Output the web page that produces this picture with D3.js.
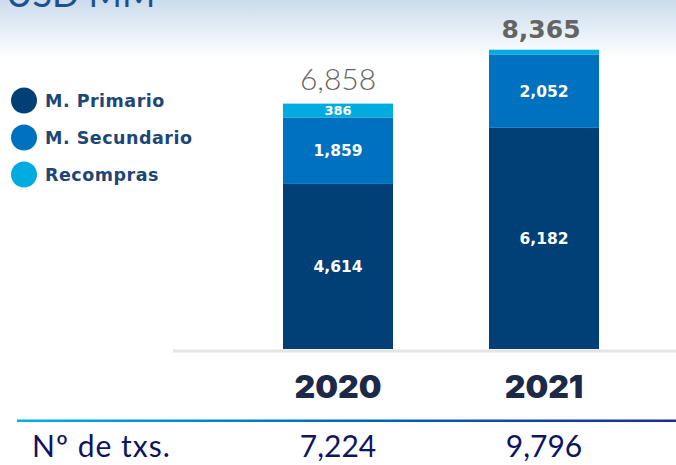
<!DOCTYPE html>
<html><head><meta charset="utf-8">
<script src="https://cdn.jsdelivr.net/npm/d3@7"></script>
<style>html,body{margin:0;padding:0;background:#fff;}svg{display:block;}</style>
</head><body>
<script>
const years = ["2020", "2021"];
const seriesNames = ["M. Primario", "M. Secundario", "Recompras"];
const primario = [4614, 6182];
const secundario = [1859, 2052];
const recompras = [386, 131];
const totals = [6858, 8365];
const txs = [7224, 9796];
const txsLabel = "Nº de txs.";
const titleText = "USD MM";
const colors = ["#004077", "#0071bf", "#00abe0"];

const W = 676, H = 465;
const svg = d3.select("body").append("svg").attr("width", W).attr("height", H);
const defs = svg.append("defs");
const bg = defs.append("linearGradient").attr("id", "bg").attr("x1", 0).attr("y1", 0).attr("x2", 0).attr("y2", 1);
bg.append("stop").attr("offset", "0%").attr("stop-color", "#cadcee");
bg.append("stop").attr("offset", "100%").attr("stop-color", "#ffffff");
svg.append("rect").attr("x", 0).attr("y", 0).attr("width", W).attr("height", 58).attr("fill", "url(#bg)");
const lg = defs.append("linearGradient").attr("id", "lg").attr("x1", 0).attr("y1", 0).attr("x2", 1).attr("y2", 0);
lg.append("stop").attr("offset", "0%").attr("stop-color", "#00b0e6");
lg.append("stop").attr("offset", "50%").attr("stop-color", "#0068b8");
lg.append("stop").attr("offset", "100%").attr("stop-color", "#1a2e8c");

svg.append("text").attr("x", 6).attr("y", 7).text(titleText)
  .attr("font-family", "Lato, sans-serif").attr("font-size", 36).attr("fill", "#1f4f8e");

const x = d3.scaleBand().domain(years).range([180, 702]).paddingInner(0.466).paddingOuter(0.5);
const y = d3.scaleLinear().domain([0, 9000]).range([349, 27]);

const data = years.map((yr, i) => ({year: yr, p: primario[i], s: secundario[i], r: recompras[i]}));
const stack = d3.stack().keys(["p", "s", "r"])(data);

// axis line
svg.append("rect").attr("x", 173).attr("y", 349.5).attr("width", W - 173).attr("height", 3).attr("fill", "#e4e4e4");

const g = svg.append("g");
stack.forEach((layer, li) => {
  g.selectAll(null).data(layer).enter().append("rect")
    .attr("x", d => x(d.data.year)).attr("width", x.bandwidth())
    .attr("y", d => y(d[1])).attr("height", d => y(d[0]) - y(d[1]))
    .attr("fill", colors[li]);
});

// inner labels
const inner = [[0, 0, 15.5], [1, 0, 15.5], [0, 1, 15.5], [1, 1, 15.5], [2, 0, 13]];
inner.forEach(([li, i, fs]) => {
  const d = stack[li][i];
  g.append("text").attr("x", x(d.data.year) + x.bandwidth() / 2)
    .attr("y", (y(d[0]) + y(d[1])) / 2).attr("dy", "0.36em")
    .attr("text-anchor", "middle").attr("fill", "#fff")
    .attr("font-family", "'DejaVu Sans', sans-serif").attr("font-weight", 700).attr("font-size", fs)
    .text(d3.format(",")(d[1] - d[0]));
});

// totals
years.forEach((yr, i) => {
  const t = svg.append("text").attr("x", x(yr) + x.bandwidth() / 2)
    .attr("text-anchor", "middle").attr("fill", "#646464")
    .text(d3.format(",")(totals[i]));
  if (i === 0) t.attr("y", y(totals[i]) - 14).attr("font-family", "Lato, sans-serif").attr("font-weight", 300).attr("font-size", 30);
  else t.attr("x", x(yr) + x.bandwidth() / 2 - 3).attr("y", y(totals[i]) - 12).attr("font-family", "'DejaVu Sans', sans-serif").attr("font-weight", 700).attr("font-size", 25);
});

// legend
seriesNames.forEach((n, i) => {
  const cy = 100.5 + i * 37;
  svg.append("circle").attr("cx", 24).attr("cy", cy).attr("r", 13).attr("fill", colors[i]);
  svg.append("text").attr("x", 45).attr("y", cy).attr("dy", "0.36em")
    .attr("font-family", "'DejaVu Sans', sans-serif").attr("font-weight", 700).attr("font-size", 17.5)
    .attr("letter-spacing", 0.5).attr("fill", "#1d4676").text(n);
});

// year labels
years.forEach(yr => {
  svg.append("text").attr("x", x(yr) + x.bandwidth() / 2).attr("y", 398)
    .attr("text-anchor", "middle").attr("font-family", "Inter, sans-serif").attr("font-weight", 900)
    .attr("font-size", 32).attr("fill", "#1c2a48").text(yr);
});

// gradient rule
svg.append("rect").attr("x", 17).attr("y", 419.5).attr("width", W - 17).attr("height", 2.5).attr("fill", "url(#lg)");

// tx row
svg.append("text").attr("x", 32).attr("y", 457).attr("font-family", "Lato, sans-serif")
  .attr("font-size", 30).attr("letter-spacing", 1).attr("fill", "#0f1460").text(txsLabel);
years.forEach((yr, i) => {
  svg.append("text").attr("x", x(yr) + x.bandwidth() / 2).attr("y", 457)
    .attr("text-anchor", "middle").attr("font-family", "Lato, sans-serif")
    .attr("font-size", 30).attr("fill", "#0f1460").text(d3.format(",")(txs[i]));
});
</script>
</body></html>
